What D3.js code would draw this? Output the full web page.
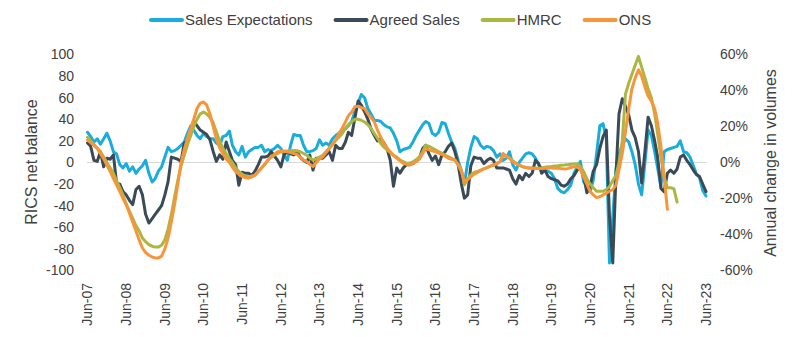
<!DOCTYPE html>
<meta charset="utf-8">
<style>
    body { margin: 0; background: #fff; }
    svg text { font-family: "Liberation Sans", Arial, sans-serif; fill: #404040; }
    .series path { fill: none; stroke-width: 3; stroke-linejoin: round; stroke-linecap: round; }
</style>
<svg width="800" height="337"></svg>
<script src="https://cdn.jsdelivr.net/npm/d3@7"></script>
<script>
    // monthly readings, first value is Jun-07
    var startMonth = new Date(2007, 5, 1);

    var salesExpectations = [
        28, 24, 19, 22, 17, 22, 27, 20, 10, 8, -2, -5,
        -1, -8, -4, -10, -6, -3, 2, -10, -18, -15, -8, -4,
        5, 14, 10, 11, 13, 16, 19, 27, 34, 30, 25, 22,
        27, 24, 22, 22, 18, 16, 24, 25, 29, 16, 10, 7,
        15, 5, 10, 12, 14, 14, 16, 10, 12, 11, 13, 16,
        13, 7, 2, 16, 26, 25, 25, 16, 10, 10, 11, 13,
        21, 16, 18, 16, 22, 25, 27, 30, 31, 34, 38, 47,
        55, 63, 60, 50, 45, 39, 39, 38, 35, 33, 32, 27,
        20, 10, 12, 13, 14, 19, 25, 30, 35, 38, 36, 27,
        25, 28, 37, 36, 27, 19, 13, 2, -8, -20, 0, 14,
        24, 22, 16, 13, 15, 14, 11, 5, 8, 2, 4, 10,
        -2, -7, 0, 4, 8, 9, 8, 4, -2, -5, -7, -8,
        -10, -15, -24, -27, -28, -25, -21, -10, -4, 1, -18, -22,
        -27, -16, 8, 34, 36, 22, -93, -50, -6, 8, 16, 22,
        19, 10, -2, -20, -30, 0, 30, 25, 10, -5, -22, 10,
        12, 13, 14, 15, 20, 10, 9, 5, -3, -10, -14, -26,
        -31
    ];

    var agreedSales = [
        18, 15, 2, 1, 10, -4, 4, 3, 7, -19, -20, -27,
        -30, -35, -39, -25, -22, -30, -48, -56, -52, -48, -44, -40,
        -30, -18, 5, 4, 3, 1, 18, 20, 30, 38, 34, 30,
        28, 26, 21, 10, 1, 7, 3, 19, 10, 2, -2, -21,
        -9, -10, -10, -12, -8, -2, 5, 5, 6, 10, 6, 2,
        -4, 7, 10, 8, 7, 10, 5, 2, 0, 7, -7, 4,
        4, 4, 7, 10, 2, 16, 13, 13, 19, 28, 25, 41,
        57, 53, 47, 40, 31, 25, 20, 22, 18, 13, 2, -22,
        -5, -10, -5, -2, -2, -1, 2, 4, 13, 16, 8, 2,
        6, -2, 7, 10, 15, 18, 10, -2, -20, -33, -30, -3,
        5, 4, 4, -1, 2, 4, 2, -5, -5, -5, -6, -7,
        -15, -20, -12, -16, -10, -13, -10, 2, -1, -10, -7, -13,
        -15, -16, -17, -21, -22, -20, -15, -12, -7, -3, -12, -28,
        -22, -8, -2, 13, 24, 30, -50, -93, -10, 45, 59, 52,
        44, 30, 23, 10, -19, 10, 42, 34, 20, 5, -24, -27,
        -10, -7, -10, -6, 5, 7, 2, -2, -7, -11, -13, -20,
        -27
    ];

    // annual change in transactions, %
    var hmrc = [
        14, 12, 10, 8, 6, 3, 0, -3, -6, -10, -14, -18,
        -23, -27, -31, -35, -38, -42, -44, -45.6, -46.5, -47, -47, -46,
        -43, -37, -29, -19, -10, -2, 4, 10, 15, 20, 24, 27,
        28, 27, 25, 22, 17, 12, 8, 5, 2, 0, -3, -5,
        -6.5, -7.5, -8, -7.5, -7, -5, -3, -1, 1.4, 3, 4.1, 5,
        6, 6.3, 6.4, 6.5, 6.6, 6.5, 6, 5, 4, 2.5, 1.4, 2,
        3, 4, 6, 8, 10, 12.4, 14, 16, 19, 21, 22.6, 24,
        24, 23.5, 22.5, 21, 19, 16, 13.5, 10.6, 8.5, 7, 5.5, 4,
        3, 1.4, 0.5, -0.5, -0.3, 0.4, 1.5, 3.2, 6, 9.7, 9, 8,
        7, 6, 5.1, 4, 3.2, 2.3, 1.4, -1, -4, -12.4, -9, -7,
        -5.5, -5, -4.2, -3.5, -2.8, -2, -1.4, -0.6, 0.4, 4.1, 3.5, 2.5,
        1, -0.5, -1.5, -2.3, -2.8, -3, -3.2, -3.2, -3.2, -3, -2.6, -2.3,
        -2.2, -2, -1.8, -1.5, -1.4, -1.2, -1, -0.8, -0.7, -2, -5, -9,
        -12, -14, -16, -16, -16, -15, -13.4, -10, -7, 0, 12, 38,
        44, 49, 54, 59, 53, 47, 41, 36, 27, 16, 3, -8,
        -14, -14, -14.5, -22
    ];

    var ons = [
        12.4, 11, 9.5, 7.8, 5, 2, -1.4, -5, -9, -12.4, -16, -20,
        -23.5, -28, -33, -38, -43, -47.5, -50, -51.5, -52.5, -53, -53, -52,
        -48, -42, -33, -23, -12, 0, 7, 13.4, 19, 24, 30, 33,
        33.6, 32, 27, 20, 13, 8, 5, 2, 0, -2.5, -5, -6.5,
        -7.8, -8.3, -8.7, -8, -7, -5, -3, -1, 1.4, 3, 4.5, 6,
        6.4, 6.3, 6, 5.5, 5, 4.5, 3, 1.4, 0.5, -1, -2.3, 0,
        2, 3.2, 5.5, 7.8, 10, 12.4, 16, 19, 22.6, 26, 28, 31,
        31.3, 30.5, 30, 27, 25, 22.6, 18, 14, 10.6, 8, 6, 4,
        2.3, 1, -0.5, -1, -1.4, -0.5, 0.4, 2, 5, 7.8, 7, 6.5,
        6, 5.2, 4.5, 3.5, 2.3, 1.8, 1.4, -1.4, -5, -10.6, -9.5, -8,
        -6.5, -5.5, -4.5, -3.5, -2.8, -2, -1.4, -0.5, 0.4, 5, 3.5, 2.3,
        0.5, -0.5, -1.5, -2.3, -2.8, -3, -3.2, -3.2, -3.4, -3.4, -3.2, -3,
        -3, -3.2, -3.2, -3.4, -3.6, -3.4, -2.8, -2.3, -2.5, -4, -8, -12,
        -16, -18, -19.5, -19, -18, -17, -16, -15, -12.4, -4, 5, 17,
        30, 41, 47, 51.5, 48, 42, 37, 34, 30, 22, 9, -8,
        -26
    ];

    var leftTicks = [-100, -80, -60, -40, -20, 0, 20, 40, 60, 80, 100];
    var rightTicks = [-60, -40, -20, 0, 20, 40, 60];
    var xTickLabels = ["Jun-07", "Jun-08", "Jun-09", "Jun-10", "Jun-11", "Jun-12", "Jun-13", "Jun-14",
        "Jun-15", "Jun-16", "Jun-17", "Jun-18", "Jun-19", "Jun-20", "Jun-21", "Jun-22", "Jun-23"];

    var seriesNames = ["Sales Expectations", "Agreed Sales", "HMRC", "ONS"];
    var seriesColors = ["#1aaddb", "#3b4a57", "#adb641", "#f8953b"];

    var svg = d3.select("svg");

    var x = d3.scaleTime()
        .domain([startMonth, new Date(2023, 5, 1)])
        .range([87.5, 706]);
    var yLeft = d3.scaleLinear().domain([-100, 100]).range([270.5, 54.5]);
    var yRight = d3.scaleLinear().domain([-60, 60]).range([270.5, 54.5]);

    function monthDate(i) { return d3.timeMonth.offset(startMonth, i); }

    // zero line
    svg.append("line")
        .attr("x1", 87).attr("x2", 707)
        .attr("y1", yLeft(0)).attr("y2", yLeft(0))
        .attr("stroke", "#d9d9d9").attr("stroke-width", 1);

    // left axis labels
    svg.append("g").selectAll("text")
        .data(leftTicks)
        .enter().append("text")
        .attr("x", 74)
        .attr("y", function(d) { return yLeft(d); })
        .attr("dy", "0.35em")
        .attr("text-anchor", "end")
        .style("font-size", "14px")
        .text(function(d) { return d; });

    // right axis labels
    svg.append("g").selectAll("text")
        .data(rightTicks)
        .enter().append("text")
        .attr("x", 720)
        .attr("y", function(d) { return yRight(d); })
        .attr("dy", "0.35em")
        .style("font-size", "14px")
        .text(function(d) { return d + "%"; });

    // x labels, rotated
    svg.append("g").selectAll("text")
        .data(xTickLabels)
        .enter().append("text")
        .attr("transform", function(d, i) {
            return "translate(" + x(d3.timeMonth.offset(startMonth, 12 * i)) + ",283) rotate(-90)";
        })
        .attr("dy", "0.35em")
        .attr("text-anchor", "end")
        .style("font-size", "14px")
        .text(function(d) { return d; });

    svg.append("text")
        .attr("transform", "translate(37,162) rotate(-90)")
        .attr("text-anchor", "middle")
        .style("font-size", "16px")
        .text("RICS net balance");

    svg.append("text")
        .attr("transform", "translate(776,163) rotate(-90)")
        .attr("text-anchor", "middle")
        .style("font-size", "16px")
        .text("Annual change in volumes");

    var leftLine = d3.line()
        .x(function(d, i) { return x(monthDate(i)); })
        .y(function(d) { return yLeft(d); });
    var rightLine = d3.line()
        .x(function(d, i) { return x(monthDate(i)); })
        .y(function(d) { return yRight(d); });

    var lines = svg.append("g").attr("class", "series");
    lines.append("path").attr("d", leftLine(salesExpectations)).attr("stroke", seriesColors[0]);
    lines.append("path").attr("d", leftLine(agreedSales)).attr("stroke", seriesColors[1]);
    lines.append("path").attr("d", rightLine(hmrc)).attr("stroke", seriesColors[2]);
    lines.append("path").attr("d", rightLine(ons)).attr("stroke", seriesColors[3]);

    // legend
    var legend = svg.append("g");
    var lx = 150;
    seriesNames.forEach(function(name, i) {
        legend.append("line")
            .attr("x1", lx + 1).attr("x2", lx + 32)
            .attr("y1", 20).attr("y2", 20)
            .attr("stroke", seriesColors[i])
            .attr("stroke-width", 4)
            .attr("stroke-linecap", "round");
        var t = legend.append("text")
            .attr("x", lx + 35)
            .attr("y", 25)
            .style("font-size", "15px")
            .text(name);
        lx += 35 + t.node().getComputedTextLength() + 22;
    });
</script>
